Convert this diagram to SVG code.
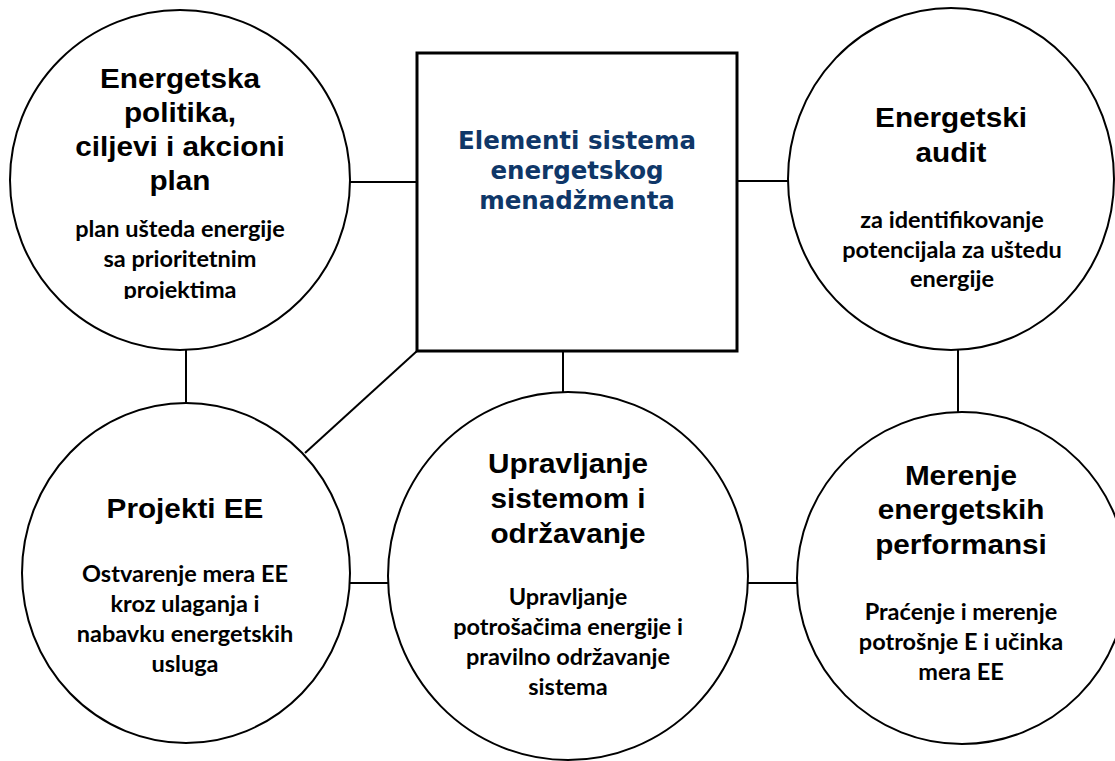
<svg xmlns="http://www.w3.org/2000/svg" width="1115" height="761" viewBox="0 0 1115 761">
  <style>
    .node { fill: #ffffff; stroke: #000000; stroke-width: 2; }
    .box { fill: #ffffff; stroke: #000000; stroke-width: 3; }
    .conn { stroke: #000000; stroke-width: 2; fill: none; }
    .title { font-family: "Liberation Sans", Arial, sans-serif; font-weight: bold; font-size: 27px; fill: #000000; text-anchor: middle; }
    .sub { font-family: Lato, "Open Sans", sans-serif; font-weight: bold; font-size: 23.5px; fill: #000000; text-anchor: middle; }
    .main { font-family: "DejaVu Sans", Verdana, sans-serif; font-weight: bold; font-size: 24.5px; fill: #0f3768; text-anchor: middle; }
  </style>
  <defs>
    <clipPath id="clip1">
      <rect x="0" y="0" width="400" height="299"/>
    </clipPath>
  </defs>
  <rect x="0" y="0" width="1115" height="761" fill="#ffffff"/>

  <g id="connectors">
    <line class="conn" x1="350" y1="182" x2="417" y2="182"/>
    <line class="conn" x1="186" y1="350" x2="186" y2="404"/>
    <line class="conn" x1="737" y1="181" x2="789" y2="181"/>
    <line class="conn" x1="563" y1="351" x2="563" y2="393"/>
    <line class="conn" x1="417" y1="351" x2="305" y2="453"/>
    <line class="conn" x1="350" y1="583" x2="389" y2="583"/>
    <line class="conn" x1="747" y1="583" x2="798" y2="583"/>
    <line class="conn" x1="958" y1="349" x2="958" y2="413"/>
  </g>

  <g id="node-center">
    <rect class="box" x="417" y="53" width="320" height="298"/>
    <text class="main" x="577" y="149">Elementi sistema</text>
    <text class="main" x="577" y="179">energetskog</text>
    <text class="main" x="577" y="209">menadžmenta</text>
  </g>

  <g id="node-politika">
    <circle class="node" cx="180" cy="180" r="170"/>
    <g transform="translate(180 0) scale(1.1 1)">
      <text class="title" x="0" y="88">Energetska</text>
      <text class="title" x="0" y="122">politika,</text>
      <text class="title" x="0" y="156">ciljevi i akcioni</text>
      <text class="title" x="0" y="190">plan</text>
    </g>
    <g clip-path="url(#clip1)">
      <text class="sub" x="180" y="237">plan ušteda energije</text>
      <text class="sub" x="180" y="267">sa prioritetnim</text>
      <text class="sub" x="180" y="298">projektima</text>
    </g>
  </g>

  <g id="node-audit">
    <ellipse class="node" cx="951" cy="179" rx="163" ry="171"/>
    <g transform="translate(951 0) scale(1.1 1)">
      <text class="title" x="0" y="127">Energetski</text>
      <text class="title" x="0" y="162">audit</text>
    </g>
    <text class="sub" x="952" y="228">za identifikovanje</text>
    <text class="sub" x="952" y="258">potencijala za uštedu</text>
    <text class="sub" x="952" y="287">energije</text>
  </g>

  <g id="node-projekti">
    <ellipse class="node" cx="186" cy="573" rx="164" ry="170"/>
    <g transform="translate(185 0) scale(1.1 1)">
      <text class="title" x="0" y="518">Projekti EE</text>
    </g>
    <text class="sub" x="185" y="582">Ostvarenje mera EE</text>
    <text class="sub" x="185" y="612">kroz ulaganja i</text>
    <text class="sub" x="185" y="642">nabavku energetskih</text>
    <text class="sub" x="185" y="672">usluga</text>
  </g>

  <g id="node-upravljanje">
    <ellipse class="node" cx="568" cy="576" rx="180" ry="184"/>
    <g transform="translate(568 0) scale(1.1 1)">
      <text class="title" x="0" y="473">Upravljanje</text>
      <text class="title" x="0" y="508">sistemom i</text>
      <text class="title" x="0" y="543">održavanje</text>
    </g>
    <text class="sub" x="568" y="605">Upravljanje</text>
    <text class="sub" x="568" y="635">potrošačima energije i</text>
    <text class="sub" x="568" y="665">pravilno održavanje</text>
    <text class="sub" x="568" y="695">sistema</text>
  </g>

  <g id="node-merenje">
    <ellipse class="node" cx="962" cy="578" rx="165" ry="166"/>
    <g transform="translate(961 0) scale(1.1 1)">
      <text class="title" x="0" y="485">Merenje</text>
      <text class="title" x="0" y="519">energetskih</text>
      <text class="title" x="0" y="554">performansi</text>
    </g>
    <text class="sub" x="961" y="620">Praćenje i merenje</text>
    <text class="sub" x="961" y="650">potrošnje E i učinka</text>
    <text class="sub" x="961" y="680">mera EE</text>
  </g>
</svg>
